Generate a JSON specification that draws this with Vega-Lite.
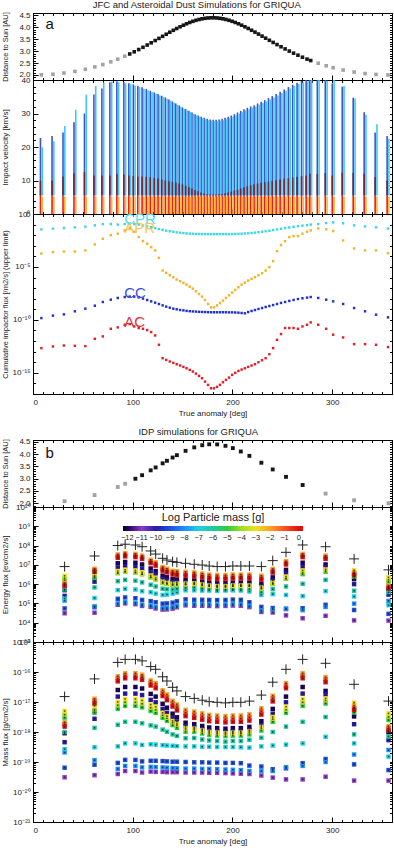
{
"$schema": "https://vega.github.io/schema/vega-lite/v6.json",
"padding": {"left": 0, "top": 0, "right": 2, "bottom": 0},
"background": "white",
"config": {
 "font": "Liberation Sans",
 "view": {"stroke": "#000", "strokeWidth": 1},
 "axis": {"grid": false, "domainColor": "#000", "tickColor": "#000", "tickSize": -5, "labelFontSize": 8, "titleFontSize": 8, "titleFontWeight": "normal", "labelColor": "#222", "titleColor": "#222", "labelPadding": 8, "minExtent": 0, "labelFont": "Liberation Sans", "titleFont": "Liberation Sans"},
 "title": {"fontSize": 9.5, "fontWeight": "normal", "color": "#222", "offset": 1, "font": "Liberation Sans", "anchor": "middle"}
},
"datasets": {
 "orbitA": [
  {"ta":8.4,"r":2.006,"inRange":false,"vcc":22.7,"vcpr":19.9,"vac":10.0,"cpr":-1.45,"apr":-3.73,"cc":-9.83,"ac":-12.67},
  {"ta":20,"r":2.033,"inRange":false,"vcc":23.3,"vcpr":21.7,"vac":10.0,"cpr":-1.38,"apr":-3.6,"cc":-9.6,"ac":-12.51},
  {"ta":31,"r":2.081,"inRange":false,"vcc":24.3,"vcpr":26.3,"vac":11.2,"cpr":-1.33,"apr":-3.54,"cc":-9.48,"ac":-12.42},
  {"ta":42,"r":2.151,"inRange":false,"vcc":27.4,"vcpr":31.1,"vac":12.2,"cpr":-1.26,"apr":-3.54,"cc":-9.19,"ac":-12.45},
  {"ta":52.5,"r":2.239,"inRange":false,"vcc":30.0,"vcpr":35.6,"vac":12.5,"cpr":-1.2,"apr":-3.44,"cc":-8.94,"ac":-12.48},
  {"ta":62,"r":2.338,"inRange":false,"vcc":35.7,"vcpr":38.2,"vac":11.5,"cpr":-1.07,"apr":-2.87,"cc":-8.66,"ac":-11.79},
  {"ta":70,"r":2.437,"inRange":false,"vcc":37.5,"vcpr":39.3,"vac":11.5,"cpr":-0.95,"apr":-2.34,"cc":-8.31,"ac":-11.56},
  {"ta":78,"r":2.551,"inRange":false,"vcc":39.3,"vcpr":39.5,"vac":11.5,"cpr":-0.95,"apr":-1.99,"cc":-8.09,"ac":-10.84},
  {"ta":85,"r":2.663,"inRange":false,"vcc":39.6,"vcpr":39.3,"vac":12.0,"cpr":-1.0,"apr":-1.86,"cc":-7.93,"ac":-10.71},
  {"ta":92,"r":2.787,"inRange":false,"vcc":39.4,"vcpr":39.0,"vac":11.8,"cpr":-0.95,"apr":-1.55,"cc":-7.84,"ac":-10.46},
  {"ta":97,"r":2.882,"inRange":true,"vcc":39.0,"vcpr":38.7,"vac":11.5,"cpr":-0.92,"apr":-1.3,"cc":-7.8,"ac":-10.4},
  {"ta":101.5,"r":2.972,"inRange":true,"vcc":38.7,"vcpr":38.3,"vac":11.3,"cpr":-0.95,"apr":-1.67,"cc":-7.8,"ac":-10.62},
  {"ta":106,"r":3.067,"inRange":true,"vcc":38.3,"vcpr":37.9,"vac":11.2,"cpr":-1.0,"apr":-2.18,"cc":-7.87,"ac":-10.77},
  {"ta":110.3,"r":3.161,"inRange":true,"vcc":37.8,"vcpr":37.4,"vac":11.2,"cpr":-1.08,"apr":-2.56,"cc":-7.99,"ac":-10.84},
  {"ta":114.5,"r":3.256,"inRange":true,"vcc":37.3,"vcpr":36.9,"vac":11.1,"cpr":-1.16,"apr":-2.81,"cc":-8.12,"ac":-10.96},
  {"ta":118.5,"r":3.349,"inRange":true,"vcc":36.8,"vcpr":36.4,"vac":11.0,"cpr":-1.25,"apr":-3.13,"cc":-8.25,"ac":-11.15},
  {"ta":122.5,"r":3.444,"inRange":true,"vcc":36.3,"vcpr":35.9,"vac":10.8,"cpr":-1.33,"apr":-3.44,"cc":-8.37,"ac":-11.47},
  {"ta":126.3,"r":3.535,"inRange":true,"vcc":35.8,"vcpr":35.4,"vac":10.6,"cpr":-1.42,"apr":-4.14,"cc":-8.5,"ac":-12.35},
  {"ta":130,"r":3.623,"inRange":true,"vcc":35.3,"vcpr":34.9,"vac":10.3,"cpr":-1.5,"apr":-5.34,"cc":-8.63,"ac":-13.62},
  {"ta":133.6,"r":3.709,"inRange":true,"vcc":34.8,"vcpr":34.4,"vac":10.0,"cpr":-1.57,"apr":-5.56,"cc":-8.75,"ac":-13.78},
  {"ta":137.2,"r":3.794,"inRange":true,"vcc":34.2,"vcpr":33.8,"vac":9.8,"cpr":-1.63,"apr":-5.78,"cc":-8.85,"ac":-13.93},
  {"ta":140.7,"r":3.874,"inRange":true,"vcc":33.6,"vcpr":33.2,"vac":9.6,"cpr":-1.68,"apr":-5.97,"cc":-8.94,"ac":-14.06},
  {"ta":144.1,"r":3.95,"inRange":true,"vcc":33.0,"vcpr":32.6,"vac":9.4,"cpr":-1.73,"apr":-6.19,"cc":-9.0,"ac":-14.19},
  {"ta":147.5,"r":4.022,"inRange":true,"vcc":32.4,"vcpr":32.0,"vac":9.1,"cpr":-1.77,"apr":-6.35,"cc":-9.07,"ac":-14.31},
  {"ta":150.8,"r":4.088,"inRange":true,"vcc":31.8,"vcpr":31.4,"vac":8.8,"cpr":-1.8,"apr":-6.51,"cc":-9.1,"ac":-14.44},
  {"ta":154,"r":4.148,"inRange":true,"vcc":31.3,"vcpr":30.9,"vac":8.4,"cpr":-1.83,"apr":-6.67,"cc":-9.15,"ac":-14.57},
  {"ta":157.2,"r":4.203,"inRange":true,"vcc":30.8,"vcpr":30.4,"vac":8.0,"cpr":-1.85,"apr":-6.86,"cc":-9.18,"ac":-14.72},
  {"ta":160.3,"r":4.251,"inRange":true,"vcc":30.3,"vcpr":29.9,"vac":7.6,"cpr":-1.87,"apr":-7.05,"cc":-9.2,"ac":-14.88},
  {"ta":163.4,"r":4.293,"inRange":true,"vcc":29.8,"vcpr":29.4,"vac":7.2,"cpr":-1.88,"apr":-7.3,"cc":-9.22,"ac":-15.07},
  {"ta":166.5,"r":4.328,"inRange":true,"vcc":29.4,"vcpr":29.0,"vac":6.8,"cpr":-1.89,"apr":-7.55,"cc":-9.24,"ac":-15.29},
  {"ta":169.5,"r":4.356,"inRange":true,"vcc":29.0,"vcpr":28.6,"vac":6.4,"cpr":-1.9,"apr":-7.8,"cc":-9.25,"ac":-15.51},
  {"ta":172.5,"r":4.377,"inRange":true,"vcc":28.7,"vcpr":28.3,"vac":6.1,"cpr":-1.9,"apr":-8.12,"cc":-9.26,"ac":-15.83},
  {"ta":175.5,"r":4.392,"inRange":true,"vcc":28.4,"vcpr":28.0,"vac":5.9,"cpr":-1.9,"apr":-8.5,"cc":-9.27,"ac":-16.14},
  {"ta":178.5,"r":4.399,"inRange":true,"vcc":28.2,"vcpr":27.8,"vac":5.8,"cpr":-1.9,"apr":-8.82,"cc":-9.28,"ac":-16.46},
  {"ta":181.5,"r":4.399,"inRange":true,"vcc":28.1,"vcpr":27.7,"vac":5.8,"cpr":-1.9,"apr":-8.82,"cc":-9.28,"ac":-16.46},
  {"ta":184.5,"r":4.392,"inRange":true,"vcc":28.1,"vcpr":27.7,"vac":5.8,"cpr":-1.9,"apr":-8.63,"cc":-9.28,"ac":-16.33},
  {"ta":187.5,"r":4.377,"inRange":true,"vcc":28.2,"vcpr":27.8,"vac":5.9,"cpr":-1.9,"apr":-8.41,"cc":-9.28,"ac":-16.14},
  {"ta":190.5,"r":4.356,"inRange":true,"vcc":28.4,"vcpr":28.0,"vac":6.0,"cpr":-1.9,"apr":-8.18,"cc":-9.28,"ac":-15.89},
  {"ta":193.5,"r":4.328,"inRange":true,"vcc":28.7,"vcpr":28.3,"vac":6.2,"cpr":-1.9,"apr":-7.93,"cc":-9.28,"ac":-15.67},
  {"ta":196.6,"r":4.293,"inRange":true,"vcc":29.0,"vcpr":28.6,"vac":6.4,"cpr":-1.9,"apr":-7.68,"cc":-9.29,"ac":-15.45},
  {"ta":199.7,"r":4.251,"inRange":true,"vcc":29.4,"vcpr":29.0,"vac":6.7,"cpr":-1.89,"apr":-7.42,"cc":-9.29,"ac":-15.19},
  {"ta":202.8,"r":4.203,"inRange":true,"vcc":29.8,"vcpr":29.4,"vac":7.0,"cpr":-1.88,"apr":-7.17,"cc":-9.3,"ac":-15.0},
  {"ta":206,"r":4.148,"inRange":true,"vcc":30.3,"vcpr":29.9,"vac":7.3,"cpr":-1.87,"apr":-6.92,"cc":-9.32,"ac":-14.82},
  {"ta":209.2,"r":4.088,"inRange":true,"vcc":30.8,"vcpr":30.4,"vac":7.6,"cpr":-1.86,"apr":-6.67,"cc":-9.35,"ac":-14.69},
  {"ta":212.5,"r":4.022,"inRange":true,"vcc":31.3,"vcpr":30.9,"vac":8.0,"cpr":-1.84,"apr":-6.48,"cc":-9.38,"ac":-14.57},
  {"ta":215.8,"r":3.952,"inRange":true,"vcc":31.7,"vcpr":31.3,"vac":8.3,"cpr":-1.82,"apr":-6.29,"cc":-9.26,"ac":-14.44},
  {"ta":219.2,"r":3.876,"inRange":true,"vcc":32.1,"vcpr":31.7,"vac":8.6,"cpr":-1.79,"apr":-6.13,"cc":-9.16,"ac":-14.31},
  {"ta":222.6,"r":3.798,"inRange":true,"vcc":32.5,"vcpr":32.1,"vac":8.9,"cpr":-1.76,"apr":-5.97,"cc":-9.07,"ac":-14.19},
  {"ta":226.1,"r":3.716,"inRange":true,"vcc":33.0,"vcpr":32.6,"vac":9.1,"cpr":-1.72,"apr":-5.78,"cc":-8.97,"ac":-14.0},
  {"ta":229.7,"r":3.63,"inRange":true,"vcc":33.5,"vcpr":33.1,"vac":9.3,"cpr":-1.68,"apr":-5.59,"cc":-8.88,"ac":-13.81},
  {"ta":233.3,"r":3.544,"inRange":true,"vcc":34.0,"vcpr":33.6,"vac":9.5,"cpr":-1.63,"apr":-5.34,"cc":-8.78,"ac":-13.62},
  {"ta":237,"r":3.456,"inRange":true,"vcc":34.6,"vcpr":34.2,"vac":9.7,"cpr":-1.58,"apr":-5.02,"cc":-8.69,"ac":-13.24},
  {"ta":240.8,"r":3.366,"inRange":true,"vcc":35.2,"vcpr":34.8,"vac":9.9,"cpr":-1.52,"apr":-4.45,"cc":-8.6,"ac":-12.67},
  {"ta":244.7,"r":3.275,"inRange":true,"vcc":35.8,"vcpr":35.4,"vac":10.1,"cpr":-1.46,"apr":-3.51,"cc":-8.5,"ac":-11.88},
  {"ta":248.7,"r":3.184,"inRange":true,"vcc":36.5,"vcpr":36.1,"vac":10.3,"cpr":-1.39,"apr":-2.94,"cc":-8.4,"ac":-11.34},
  {"ta":252.8,"r":3.093,"inRange":true,"vcc":37.2,"vcpr":36.8,"vac":10.5,"cpr":-1.33,"apr":-2.56,"cc":-8.31,"ac":-10.77},
  {"ta":257,"r":3.003,"inRange":true,"vcc":37.9,"vcpr":37.5,"vac":10.7,"cpr":-1.27,"apr":-2.18,"cc":-8.21,"ac":-10.77},
  {"ta":261.3,"r":2.915,"inRange":true,"vcc":38.6,"vcpr":38.2,"vac":10.9,"cpr":-1.21,"apr":-2.09,"cc":-8.12,"ac":-10.77},
  {"ta":265.7,"r":2.83,"inRange":true,"vcc":39.2,"vcpr":38.8,"vac":11.1,"cpr":-1.15,"apr":-2.09,"cc":-8.03,"ac":-10.84},
  {"ta":270.2,"r":2.746,"inRange":true,"vcc":39.7,"vcpr":39.3,"vac":11.3,"cpr":-1.1,"apr":-1.86,"cc":-7.96,"ac":-10.62},
  {"ta":274.8,"r":2.666,"inRange":true,"vcc":40.0,"vcpr":39.6,"vac":11.5,"cpr":-1.05,"apr":-1.67,"cc":-7.9,"ac":-10.46},
  {"ta":278.5,"r":2.606,"inRange":true,"vcc":40.3,"vcpr":40.0,"vac":12.0,"cpr":-1.0,"apr":-1.55,"cc":-7.84,"ac":-10.24},
  {"ta":286,"r":2.492,"inRange":false,"vcc":40.0,"vcpr":40.8,"vac":12.0,"cpr":-0.95,"apr":-1.36,"cc":-7.93,"ac":-10.46},
  {"ta":294,"r":2.386,"inRange":false,"vcc":40.3,"vcpr":39.8,"vac":12.2,"cpr":-0.85,"apr":-1.45,"cc":-8.09,"ac":-10.84},
  {"ta":301,"r":2.305,"inRange":false,"vcc":39.0,"vcpr":40.3,"vac":11.5,"cpr":-0.79,"apr":-1.61,"cc":-8.25,"ac":-11.4},
  {"ta":311,"r":2.207,"inRange":false,"vcc":38.0,"vcpr":38.2,"vac":12.3,"cpr":-0.88,"apr":-2.5,"cc":-8.5,"ac":-11.66},
  {"ta":322,"r":2.123,"inRange":false,"vcc":34.7,"vcpr":34.5,"vac":12.2,"cpr":-1.07,"apr":-3.25,"cc":-8.88,"ac":-12.29},
  {"ta":333,"r":2.061,"inRange":false,"vcc":30.4,"vcpr":29.6,"vac":12.0,"cpr":-1.17,"apr":-3.44,"cc":-9.19,"ac":-12.29},
  {"ta":344,"r":2.021,"inRange":false,"vcc":24.3,"vcpr":26.8,"vac":11.0,"cpr":-1.26,"apr":-3.44,"cc":-9.51,"ac":-12.35},
  {"ta":356,"r":2.001,"inRange":false,"vcc":23.3,"vcpr":22.5,"vac":10.0,"cpr":-1.38,"apr":-3.7,"cc":-9.76,"ac":-12.57}
 ],
 "idpTot": [
  {"ta":31.7,"r":2.085,"inRange":false,"mt":-16.82,"et":6.91},
  {"ta":61.7,"r":2.335,"inRange":false,"mt":-16.23,"et":7.46},
  {"ta":85,"r":2.663,"inRange":false,"mt":-15.68,"et":8.0},
  {"ta":92.4,"r":2.794,"inRange":false,"mt":-15.58,"et":8.07},
  {"ta":102.7,"r":2.997,"inRange":true,"mt":-15.58,"et":8.03},
  {"ta":109.4,"r":3.141,"inRange":true,"mt":-15.63,"et":7.94},
  {"ta":118,"r":3.338,"inRange":true,"mt":-15.82,"et":7.72},
  {"ta":123,"r":3.456,"inRange":true,"mt":-15.91,"et":7.56},
  {"ta":130,"r":3.623,"inRange":true,"mt":-16.16,"et":7.34},
  {"ta":134.3,"r":3.726,"inRange":true,"mt":-16.3,"et":7.25},
  {"ta":140,"r":3.858,"inRange":true,"mt":-16.51,"et":7.17},
  {"ta":144.3,"r":3.954,"inRange":true,"mt":-16.63,"et":7.13},
  {"ta":153,"r":4.13,"inRange":true,"mt":-16.82,"et":7.08},
  {"ta":161.7,"r":4.27,"inRange":true,"mt":-16.88,"et":7.03},
  {"ta":169.7,"r":4.358,"inRange":true,"mt":-16.94,"et":6.99},
  {"ta":176.7,"r":4.396,"inRange":true,"mt":-16.99,"et":6.94},
  {"ta":184.7,"r":4.391,"inRange":true,"mt":-17.01,"et":6.91},
  {"ta":193,"r":4.333,"inRange":true,"mt":-17.03,"et":6.91},
  {"ta":200.4,"r":4.241,"inRange":true,"mt":-17.01,"et":6.94},
  {"ta":208.4,"r":4.103,"inRange":true,"mt":-17.01,"et":6.94},
  {"ta":217,"r":3.926,"inRange":true,"mt":-16.97,"et":6.94},
  {"ta":229,"r":3.647,"inRange":true,"mt":-16.77,"et":6.91},
  {"ta":240.4,"r":3.375,"inRange":true,"mt":-16.34,"et":7.22},
  {"ta":253.7,"r":3.074,"inRange":true,"mt":-15.91,"et":7.65},
  {"ta":270.4,"r":2.743,"inRange":true,"mt":-15.58,"et":8.03},
  {"ta":293.4,"r":2.394,"inRange":false,"mt":-15.71,"et":7.94},
  {"ta":322,"r":2.123,"inRange":false,"mt":-16.41,"et":7.31},
  {"ta":356.5,"r":2.001,"inRange":false,"mt":-16.97,"et":6.74}
 ],
 "idp": [
  {"ta":31.7,"m":-12,"mf":-18.04,"ef":5.69},{"ta":31.7,"m":-11,"mf":-19.51,"ef":4.49},{"ta":31.7,"m":-10,"mf":-18.34,"ef":5.39},{"ta":31.7,"m":-9,"mf":-19.19,"ef":4.74},{"ta":31.7,"m":-8,"mf":-18.68,"ef":5.15},{"ta":31.7,"m":-7,"mf":-18.57,"ef":5.26},{"ta":31.7,"m":-6,"mf":-18.0,"ef":5.73},{"ta":31.7,"m":-5,"mf":-17.52,"ef":6.21},{"ta":31.7,"m":-4,"mf":-17.42,"ef":6.31},{"ta":31.7,"m":-3,"mf":-17.3,"ef":6.43},{"ta":31.7,"m":-2,"mf":-17.67,"ef":6.06},{"ta":31.7,"m":-1,"mf":-17.74,"ef":5.99},{"ta":31.7,"m":0,"mf":-17.82,"ef":5.91},
  {"ta":61.7,"m":-12,"mf":-17.3,"ef":6.39},{"ta":61.7,"m":-11,"mf":-19.44,"ef":4.52},{"ta":61.7,"m":-10,"mf":-17.56,"ef":6.13},{"ta":61.7,"m":-9,"mf":-19.09,"ef":4.8},{"ta":61.7,"m":-8,"mf":-18.94,"ef":4.85},{"ta":61.7,"m":-7,"mf":-18.51,"ef":5.28},{"ta":61.7,"m":-6,"mf":-17.86,"ef":5.83},{"ta":61.7,"m":-5,"mf":-17.36,"ef":6.33},{"ta":61.7,"m":-4,"mf":-17.25,"ef":6.44},{"ta":61.7,"m":-3,"mf":-17.13,"ef":6.56},{"ta":61.7,"m":-2,"mf":-16.89,"ef":6.8},{"ta":61.7,"m":-1,"mf":-16.96,"ef":6.73},{"ta":61.7,"m":0,"mf":-17.05,"ef":6.64},
  {"ta":85,"m":-12,"mf":-16.6,"ef":7.08},{"ta":85,"m":-11,"mf":-19.4,"ef":4.93},{"ta":85,"m":-10,"mf":-16.82,"ef":6.86},{"ta":85,"m":-9,"mf":-19.03,"ef":5.24},{"ta":85,"m":-8,"mf":-19.23,"ef":5.0},{"ta":85,"m":-7,"mf":-18.48,"ef":5.69},{"ta":85,"m":-6,"mf":-17.76,"ef":6.15},{"ta":85,"m":-5,"mf":-17.23,"ef":6.58},{"ta":85,"m":-4,"mf":-17.11,"ef":6.57},{"ta":85,"m":-3,"mf":-17.0,"ef":6.68},{"ta":85,"m":-2,"mf":-16.14,"ef":7.54},{"ta":85,"m":-1,"mf":-16.22,"ef":7.46},{"ta":85,"m":0,"mf":-16.31,"ef":7.37},
  {"ta":92.4,"m":-12,"mf":-16.5,"ef":7.15},{"ta":92.4,"m":-11,"mf":-19.3,"ef":5.0},{"ta":92.4,"m":-10,"mf":-16.72,"ef":6.93},{"ta":92.4,"m":-9,"mf":-18.93,"ef":5.31},{"ta":92.4,"m":-8,"mf":-19.13,"ef":5.07},{"ta":92.4,"m":-7,"mf":-18.38,"ef":5.76},{"ta":92.4,"m":-6,"mf":-17.66,"ef":6.22},{"ta":92.4,"m":-5,"mf":-17.13,"ef":6.65},{"ta":92.4,"m":-4,"mf":-17.01,"ef":6.64},{"ta":92.4,"m":-3,"mf":-16.9,"ef":6.75},{"ta":92.4,"m":-2,"mf":-16.04,"ef":7.61},{"ta":92.4,"m":-1,"mf":-16.12,"ef":7.53},{"ta":92.4,"m":0,"mf":-16.21,"ef":7.44},
  {"ta":102.7,"m":-12,"mf":-16.5,"ef":7.11},{"ta":102.7,"m":-11,"mf":-19.3,"ef":4.96},{"ta":102.7,"m":-10,"mf":-16.72,"ef":6.89},{"ta":102.7,"m":-9,"mf":-18.93,"ef":5.27},{"ta":102.7,"m":-8,"mf":-19.13,"ef":5.03},{"ta":102.7,"m":-7,"mf":-18.38,"ef":5.72},{"ta":102.7,"m":-6,"mf":-17.66,"ef":6.18},{"ta":102.7,"m":-5,"mf":-17.13,"ef":6.61},{"ta":102.7,"m":-4,"mf":-17.01,"ef":6.6},{"ta":102.7,"m":-3,"mf":-16.9,"ef":6.71},{"ta":102.7,"m":-2,"mf":-16.04,"ef":7.57},{"ta":102.7,"m":-1,"mf":-16.12,"ef":7.49},{"ta":102.7,"m":0,"mf":-16.21,"ef":7.4},
  {"ta":109.4,"m":-12,"mf":-16.55,"ef":7.02},{"ta":109.4,"m":-11,"mf":-19.35,"ef":4.87},{"ta":109.4,"m":-10,"mf":-16.77,"ef":6.8},{"ta":109.4,"m":-9,"mf":-18.98,"ef":5.18},{"ta":109.4,"m":-8,"mf":-19.18,"ef":4.94},{"ta":109.4,"m":-7,"mf":-18.43,"ef":5.63},{"ta":109.4,"m":-6,"mf":-17.71,"ef":6.09},{"ta":109.4,"m":-5,"mf":-17.18,"ef":6.52},{"ta":109.4,"m":-4,"mf":-17.06,"ef":6.51},{"ta":109.4,"m":-3,"mf":-16.95,"ef":6.62},{"ta":109.4,"m":-2,"mf":-16.09,"ef":7.48},{"ta":109.4,"m":-1,"mf":-16.17,"ef":7.4},{"ta":109.4,"m":0,"mf":-16.26,"ef":7.31},
  {"ta":118,"m":-12,"mf":-16.73,"ef":6.81},{"ta":118,"m":-11,"mf":-19.32,"ef":4.82},{"ta":118,"m":-10,"mf":-16.93,"ef":6.61},{"ta":118,"m":-9,"mf":-18.96,"ef":5.12},{"ta":118,"m":-8,"mf":-19.16,"ef":4.89},{"ta":118,"m":-7,"mf":-18.41,"ef":5.58},{"ta":118,"m":-6,"mf":-17.78,"ef":5.97},{"ta":118,"m":-5,"mf":-17.3,"ef":6.36},{"ta":118,"m":-4,"mf":-17.19,"ef":6.35},{"ta":118,"m":-3,"mf":-17.09,"ef":6.45},{"ta":118,"m":-2,"mf":-16.28,"ef":7.26},{"ta":118,"m":-1,"mf":-16.36,"ef":7.18},{"ta":118,"m":0,"mf":-16.45,"ef":7.09},
  {"ta":123,"m":-12,"mf":-16.82,"ef":6.68},{"ta":123,"m":-11,"mf":-19.33,"ef":4.74},{"ta":123,"m":-10,"mf":-17.01,"ef":6.49},{"ta":123,"m":-9,"mf":-18.96,"ef":5.06},{"ta":123,"m":-8,"mf":-19.17,"ef":4.82},{"ta":123,"m":-7,"mf":-18.42,"ef":5.51},{"ta":123,"m":-6,"mf":-17.82,"ef":5.88},{"ta":123,"m":-5,"mf":-17.36,"ef":6.25},{"ta":123,"m":-4,"mf":-17.26,"ef":6.24},{"ta":123,"m":-3,"mf":-17.16,"ef":6.34},{"ta":123,"m":-2,"mf":-16.37,"ef":7.13},{"ta":123,"m":-1,"mf":-16.45,"ef":7.05},{"ta":123,"m":0,"mf":-16.54,"ef":6.96},
  {"ta":130,"m":-12,"mf":-17.06,"ef":6.44},{"ta":130,"m":-11,"mf":-19.33,"ef":4.68},{"ta":130,"m":-10,"mf":-17.23,"ef":6.27},{"ta":130,"m":-9,"mf":-18.97,"ef":4.99},{"ta":130,"m":-8,"mf":-19.18,"ef":4.75},{"ta":130,"m":-7,"mf":-18.44,"ef":5.44},{"ta":130,"m":-6,"mf":-17.92,"ef":5.76},{"ta":130,"m":-5,"mf":-17.53,"ef":6.07},{"ta":130,"m":-4,"mf":-17.44,"ef":6.06},{"ta":130,"m":-3,"mf":-17.36,"ef":6.14},{"ta":130,"m":-2,"mf":-16.61,"ef":6.89},{"ta":130,"m":-1,"mf":-16.7,"ef":6.8},{"ta":130,"m":0,"mf":-16.8,"ef":6.7},
  {"ta":134.3,"m":-12,"mf":-17.19,"ef":6.36},{"ta":134.3,"m":-11,"mf":-19.34,"ef":4.69},{"ta":134.3,"m":-10,"mf":-17.36,"ef":6.19},{"ta":134.3,"m":-9,"mf":-18.98,"ef":5.0},{"ta":134.3,"m":-8,"mf":-19.19,"ef":4.76},{"ta":134.3,"m":-7,"mf":-18.45,"ef":5.46},{"ta":134.3,"m":-6,"mf":-17.99,"ef":5.73},{"ta":134.3,"m":-5,"mf":-17.63,"ef":6.02},{"ta":134.3,"m":-4,"mf":-17.54,"ef":6.01},{"ta":134.3,"m":-3,"mf":-17.47,"ef":6.08},{"ta":134.3,"m":-2,"mf":-16.75,"ef":6.8},{"ta":134.3,"m":-1,"mf":-16.84,"ef":6.71},{"ta":134.3,"m":0,"mf":-16.94,"ef":6.61},
  {"ta":140,"m":-12,"mf":-17.39,"ef":6.26},{"ta":140,"m":-11,"mf":-19.34,"ef":4.73},{"ta":140,"m":-10,"mf":-17.54,"ef":6.11},{"ta":140,"m":-9,"mf":-18.99,"ef":5.04},{"ta":140,"m":-8,"mf":-19.2,"ef":4.81},{"ta":140,"m":-7,"mf":-18.46,"ef":5.51},{"ta":140,"m":-6,"mf":-18.08,"ef":5.72},{"ta":140,"m":-5,"mf":-17.77,"ef":5.96},{"ta":140,"m":-4,"mf":-17.69,"ef":5.96},{"ta":140,"m":-3,"mf":-17.63,"ef":6.02},{"ta":140,"m":-2,"mf":-16.96,"ef":6.69},{"ta":140,"m":-1,"mf":-17.05,"ef":6.6},{"ta":140,"m":0,"mf":-17.15,"ef":6.5},
  {"ta":144.3,"m":-12,"mf":-17.51,"ef":6.24},{"ta":144.3,"m":-11,"mf":-19.34,"ef":4.8},{"ta":144.3,"m":-10,"mf":-17.65,"ef":6.1},{"ta":144.3,"m":-9,"mf":-18.99,"ef":5.11},{"ta":144.3,"m":-8,"mf":-19.21,"ef":4.87},{"ta":144.3,"m":-7,"mf":-18.47,"ef":5.57},{"ta":144.3,"m":-6,"mf":-18.13,"ef":5.76},{"ta":144.3,"m":-5,"mf":-17.86,"ef":5.97},{"ta":144.3,"m":-4,"mf":-17.78,"ef":5.97},{"ta":144.3,"m":-3,"mf":-17.72,"ef":6.03},{"ta":144.3,"m":-2,"mf":-17.08,"ef":6.67},{"ta":144.3,"m":-1,"mf":-17.17,"ef":6.58},{"ta":144.3,"m":0,"mf":-17.28,"ef":6.47},
  {"ta":153,"m":-12,"mf":-17.69,"ef":6.21},{"ta":153,"m":-11,"mf":-19.35,"ef":4.9},{"ta":153,"m":-10,"mf":-17.81,"ef":6.09},{"ta":153,"m":-9,"mf":-19.0,"ef":5.21},{"ta":153,"m":-8,"mf":-19.22,"ef":4.97},{"ta":153,"m":-7,"mf":-18.48,"ef":5.68},{"ta":153,"m":-6,"mf":-18.21,"ef":5.81},{"ta":153,"m":-5,"mf":-17.99,"ef":5.98},{"ta":153,"m":-4,"mf":-17.92,"ef":5.98},{"ta":153,"m":-3,"mf":-17.87,"ef":6.03},{"ta":153,"m":-2,"mf":-17.26,"ef":6.64},{"ta":153,"m":-1,"mf":-17.36,"ef":6.54},{"ta":153,"m":0,"mf":-17.47,"ef":6.43},
  {"ta":161.7,"m":-12,"mf":-17.74,"ef":6.19},{"ta":161.7,"m":-11,"mf":-19.35,"ef":4.88},{"ta":161.7,"m":-10,"mf":-17.85,"ef":6.08},{"ta":161.7,"m":-9,"mf":-19.01,"ef":5.19},{"ta":161.7,"m":-8,"mf":-19.22,"ef":4.97},{"ta":161.7,"m":-7,"mf":-18.48,"ef":5.68},{"ta":161.7,"m":-6,"mf":-18.2,"ef":5.83},{"ta":161.7,"m":-5,"mf":-17.99,"ef":6.0},{"ta":161.7,"m":-4,"mf":-17.93,"ef":6.0},{"ta":161.7,"m":-3,"mf":-17.89,"ef":6.04},{"ta":161.7,"m":-2,"mf":-17.32,"ef":6.61},{"ta":161.7,"m":-1,"mf":-17.42,"ef":6.51},{"ta":161.7,"m":0,"mf":-17.53,"ef":6.4},
  {"ta":169.7,"m":-12,"mf":-17.8,"ef":6.13},{"ta":169.7,"m":-11,"mf":-19.35,"ef":4.88},{"ta":169.7,"m":-10,"mf":-17.91,"ef":6.02},{"ta":169.7,"m":-9,"mf":-19.01,"ef":5.19},{"ta":169.7,"m":-8,"mf":-19.23,"ef":4.96},{"ta":169.7,"m":-7,"mf":-18.49,"ef":5.67},{"ta":169.7,"m":-6,"mf":-18.25,"ef":5.78},{"ta":169.7,"m":-5,"mf":-18.05,"ef":5.94},{"ta":169.7,"m":-4,"mf":-17.99,"ef":5.94},{"ta":169.7,"m":-3,"mf":-17.95,"ef":5.98},{"ta":169.7,"m":-2,"mf":-17.38,"ef":6.55},{"ta":169.7,"m":-1,"mf":-17.48,"ef":6.45},{"ta":169.7,"m":0,"mf":-17.59,"ef":6.34},
  {"ta":176.7,"m":-12,"mf":-17.85,"ef":6.08},{"ta":176.7,"m":-11,"mf":-19.36,"ef":4.87},{"ta":176.7,"m":-10,"mf":-17.96,"ef":5.97},{"ta":176.7,"m":-9,"mf":-19.02,"ef":5.18},{"ta":176.7,"m":-8,"mf":-19.23,"ef":4.96},{"ta":176.7,"m":-7,"mf":-18.49,"ef":5.67},{"ta":176.7,"m":-6,"mf":-18.28,"ef":5.75},{"ta":176.7,"m":-5,"mf":-18.1,"ef":5.89},{"ta":176.7,"m":-4,"mf":-18.04,"ef":5.89},{"ta":176.7,"m":-3,"mf":-18.0,"ef":5.93},{"ta":176.7,"m":-2,"mf":-17.43,"ef":6.5},{"ta":176.7,"m":-1,"mf":-17.53,"ef":6.4},{"ta":176.7,"m":0,"mf":-17.64,"ef":6.29},
  {"ta":184.7,"m":-12,"mf":-17.87,"ef":6.05},{"ta":184.7,"m":-11,"mf":-19.36,"ef":4.86},{"ta":184.7,"m":-10,"mf":-17.98,"ef":5.94},{"ta":184.7,"m":-9,"mf":-19.02,"ef":5.17},{"ta":184.7,"m":-8,"mf":-19.24,"ef":4.94},{"ta":184.7,"m":-7,"mf":-18.5,"ef":5.65},{"ta":184.7,"m":-6,"mf":-18.3,"ef":5.72},{"ta":184.7,"m":-5,"mf":-18.12,"ef":5.86},{"ta":184.7,"m":-4,"mf":-18.06,"ef":5.86},{"ta":184.7,"m":-3,"mf":-18.02,"ef":5.9},{"ta":184.7,"m":-2,"mf":-17.45,"ef":6.47},{"ta":184.7,"m":-1,"mf":-17.55,"ef":6.37},{"ta":184.7,"m":0,"mf":-17.66,"ef":6.26},
  {"ta":193,"m":-12,"mf":-17.89,"ef":6.05},{"ta":193,"m":-11,"mf":-19.37,"ef":4.87},{"ta":193,"m":-10,"mf":-18.0,"ef":5.94},{"ta":193,"m":-9,"mf":-19.03,"ef":5.18},{"ta":193,"m":-8,"mf":-19.25,"ef":4.95},{"ta":193,"m":-7,"mf":-18.5,"ef":5.67},{"ta":193,"m":-6,"mf":-18.32,"ef":5.72},{"ta":193,"m":-5,"mf":-18.14,"ef":5.86},{"ta":193,"m":-4,"mf":-18.08,"ef":5.86},{"ta":193,"m":-3,"mf":-18.04,"ef":5.9},{"ta":193,"m":-2,"mf":-17.47,"ef":6.47},{"ta":193,"m":-1,"mf":-17.57,"ef":6.37},{"ta":193,"m":0,"mf":-17.68,"ef":6.26},
  {"ta":200.4,"m":-12,"mf":-17.87,"ef":6.08},{"ta":200.4,"m":-11,"mf":-19.38,"ef":4.89},{"ta":200.4,"m":-10,"mf":-17.98,"ef":5.97},{"ta":200.4,"m":-9,"mf":-19.03,"ef":5.2},{"ta":200.4,"m":-8,"mf":-19.26,"ef":4.97},{"ta":200.4,"m":-7,"mf":-18.5,"ef":5.68},{"ta":200.4,"m":-6,"mf":-18.3,"ef":5.75},{"ta":200.4,"m":-5,"mf":-18.12,"ef":5.89},{"ta":200.4,"m":-4,"mf":-18.06,"ef":5.89},{"ta":200.4,"m":-3,"mf":-18.02,"ef":5.93},{"ta":200.4,"m":-2,"mf":-17.45,"ef":6.5},{"ta":200.4,"m":-1,"mf":-17.55,"ef":6.4},{"ta":200.4,"m":0,"mf":-17.66,"ef":6.29},
  {"ta":208.4,"m":-12,"mf":-17.87,"ef":6.08},{"ta":208.4,"m":-11,"mf":-19.39,"ef":4.88},{"ta":208.4,"m":-10,"mf":-17.98,"ef":5.97},{"ta":208.4,"m":-9,"mf":-19.04,"ef":5.19},{"ta":208.4,"m":-8,"mf":-19.27,"ef":4.96},{"ta":208.4,"m":-7,"mf":-18.51,"ef":5.67},{"ta":208.4,"m":-6,"mf":-18.3,"ef":5.75},{"ta":208.4,"m":-5,"mf":-18.12,"ef":5.89},{"ta":208.4,"m":-4,"mf":-18.06,"ef":5.89},{"ta":208.4,"m":-3,"mf":-18.02,"ef":5.93},{"ta":208.4,"m":-2,"mf":-17.45,"ef":6.5},{"ta":208.4,"m":-1,"mf":-17.55,"ef":6.4},{"ta":208.4,"m":0,"mf":-17.66,"ef":6.29},
  {"ta":217,"m":-12,"mf":-17.83,"ef":6.08},{"ta":217,"m":-11,"mf":-19.4,"ef":4.81},{"ta":217,"m":-10,"mf":-17.94,"ef":5.97},{"ta":217,"m":-9,"mf":-19.12,"ef":5.06},{"ta":217,"m":-8,"mf":-19.3,"ef":4.87},{"ta":217,"m":-7,"mf":-18.52,"ef":5.62},{"ta":217,"m":-6,"mf":-18.26,"ef":5.75},{"ta":217,"m":-5,"mf":-18.08,"ef":5.89},{"ta":217,"m":-4,"mf":-18.02,"ef":5.89},{"ta":217,"m":-3,"mf":-17.98,"ef":5.93},{"ta":217,"m":-2,"mf":-17.41,"ef":6.5},{"ta":217,"m":-1,"mf":-17.51,"ef":6.4},{"ta":217,"m":0,"mf":-17.62,"ef":6.29},
  {"ta":229,"m":-12,"mf":-17.64,"ef":6.01},{"ta":229,"m":-11,"mf":-19.45,"ef":4.56},{"ta":229,"m":-10,"mf":-17.77,"ef":5.88},{"ta":229,"m":-9,"mf":-19.15,"ef":4.82},{"ta":229,"m":-8,"mf":-19.3,"ef":4.65},{"ta":229,"m":-7,"mf":-18.48,"ef":5.44},{"ta":229,"m":-6,"mf":-18.19,"ef":5.58},{"ta":229,"m":-5,"mf":-17.95,"ef":5.77},{"ta":229,"m":-4,"mf":-17.88,"ef":5.77},{"ta":229,"m":-3,"mf":-17.83,"ef":5.82},{"ta":229,"m":-2,"mf":-17.21,"ef":6.44},{"ta":229,"m":-1,"mf":-17.31,"ef":6.34},{"ta":229,"m":0,"mf":-17.42,"ef":6.23},
  {"ta":240.4,"m":-12,"mf":-17.23,"ef":6.35},{"ta":240.4,"m":-11,"mf":-19.52,"ef":4.53},{"ta":240.4,"m":-10,"mf":-17.39,"ef":6.19},{"ta":240.4,"m":-9,"mf":-19.24,"ef":4.76},{"ta":240.4,"m":-8,"mf":-19.3,"ef":4.68},{"ta":240.4,"m":-7,"mf":-18.45,"ef":5.48},{"ta":240.4,"m":-6,"mf":-18.0,"ef":5.74},{"ta":240.4,"m":-5,"mf":-17.66,"ef":6.01},{"ta":240.4,"m":-4,"mf":-17.57,"ef":6.01},{"ta":240.4,"m":-3,"mf":-17.5,"ef":6.08},{"ta":240.4,"m":-2,"mf":-16.79,"ef":6.79},{"ta":240.4,"m":-1,"mf":-16.88,"ef":6.7},{"ta":240.4,"m":0,"mf":-16.98,"ef":6.6},
  {"ta":253.7,"m":-12,"mf":-16.82,"ef":6.74},{"ta":253.7,"m":-11,"mf":-19.58,"ef":4.38},{"ta":253.7,"m":-10,"mf":-17.01,"ef":6.55},{"ta":253.7,"m":-9,"mf":-19.21,"ef":4.71},{"ta":253.7,"m":-8,"mf":-19.17,"ef":4.73},{"ta":253.7,"m":-7,"mf":-18.42,"ef":5.44},{"ta":253.7,"m":-6,"mf":-17.82,"ef":5.88},{"ta":253.7,"m":-5,"mf":-17.36,"ef":6.28},{"ta":253.7,"m":-4,"mf":-17.26,"ef":6.3},{"ta":253.7,"m":-3,"mf":-17.16,"ef":6.4},{"ta":253.7,"m":-2,"mf":-16.37,"ef":7.19},{"ta":253.7,"m":-1,"mf":-16.45,"ef":7.11},{"ta":253.7,"m":0,"mf":-16.54,"ef":7.02},
  {"ta":270.4,"m":-12,"mf":-16.5,"ef":7.11},{"ta":270.4,"m":-11,"mf":-19.58,"ef":4.23},{"ta":270.4,"m":-10,"mf":-16.72,"ef":6.89},{"ta":270.4,"m":-9,"mf":-19.04,"ef":4.75},{"ta":270.4,"m":-8,"mf":-19.13,"ef":4.65},{"ta":270.4,"m":-7,"mf":-18.38,"ef":5.38},{"ta":270.4,"m":-6,"mf":-17.66,"ef":6.02},{"ta":270.4,"m":-5,"mf":-17.13,"ef":6.52},{"ta":270.4,"m":-4,"mf":-17.01,"ef":6.6},{"ta":270.4,"m":-3,"mf":-16.9,"ef":6.71},{"ta":270.4,"m":-2,"mf":-16.04,"ef":7.57},{"ta":270.4,"m":-1,"mf":-16.12,"ef":7.49},{"ta":270.4,"m":0,"mf":-16.21,"ef":7.4},
  {"ta":293.4,"m":-12,"mf":-16.63,"ef":7.02},{"ta":293.4,"m":-11,"mf":-19.49,"ef":4.36},{"ta":293.4,"m":-10,"mf":-16.75,"ef":6.9},{"ta":293.4,"m":-9,"mf":-18.9,"ef":4.93},{"ta":293.4,"m":-8,"mf":-19.0,"ef":4.82},{"ta":293.4,"m":-7,"mf":-18.16,"ef":5.64},{"ta":293.4,"m":-6,"mf":-17.5,"ef":6.22},{"ta":293.4,"m":-5,"mf":-17.05,"ef":6.64},{"ta":293.4,"m":-4,"mf":-16.95,"ef":6.7},{"ta":293.4,"m":-3,"mf":-16.88,"ef":6.77},{"ta":293.4,"m":-2,"mf":-16.17,"ef":7.48},{"ta":293.4,"m":-1,"mf":-16.25,"ef":7.4},{"ta":293.4,"m":0,"mf":-16.34,"ef":7.31},
  {"ta":322,"m":-12,"mf":-17.48,"ef":6.26},{"ta":322,"m":-11,"mf":-19.62,"ef":4.12},{"ta":322,"m":-10,"mf":-17.74,"ef":6.0},{"ta":322,"m":-9,"mf":-19.08,"ef":4.66},{"ta":322,"m":-8,"mf":-18.75,"ef":4.99},{"ta":322,"m":-7,"mf":-18.38,"ef":5.36},{"ta":322,"m":-6,"mf":-18.08,"ef":5.66},{"ta":322,"m":-5,"mf":-17.35,"ef":6.39},{"ta":322,"m":-4,"mf":-17.2,"ef":6.54},{"ta":322,"m":-3,"mf":-17.02,"ef":6.72},{"ta":322,"m":-2,"mf":-17.12,"ef":6.62},{"ta":322,"m":-1,"mf":-17.2,"ef":6.54},{"ta":322,"m":0,"mf":-17.27,"ef":6.47},
  {"ta":356.5,"m":-12,"mf":-18.01,"ef":5.72},{"ta":356.5,"m":-11,"mf":-19.62,"ef":4.11},{"ta":356.5,"m":-10,"mf":-18.27,"ef":5.46},{"ta":356.5,"m":-9,"mf":-19.27,"ef":4.46},{"ta":356.5,"m":-8,"mf":-18.6,"ef":5.13},{"ta":356.5,"m":-7,"mf":-18.82,"ef":4.91},{"ta":356.5,"m":-6,"mf":-18.15,"ef":5.58},{"ta":356.5,"m":-5,"mf":-17.6,"ef":6.13},{"ta":356.5,"m":-4,"mf":-17.5,"ef":6.23},{"ta":356.5,"m":-3,"mf":-17.38,"ef":6.35},{"ta":356.5,"m":-2,"mf":-17.8,"ef":5.93},{"ta":356.5,"m":-1,"mf":-17.87,"ef":5.86},{"ta":356.5,"m":0,"mf":-17.95,"ef":5.78}
 ]
},
"resolve": {"scale": {"color": "independent"}, "legend": {"color": "independent"}},
"spacing": 8,
"vconcat": [
 {
  "title": {"text": "JFC and Asteroidal Dust Simulations for GRIQUA", "anchor": "middle"},
  "bounds": "flush",
  "spacing": 0,
  "vconcat": [
   {
    "width": 359, "height": 67,
    "resolve": {"axis": {"x": "independent", "y": "independent"}},
    "layer": [
     {"layer": [
      {"data": {"name": "orbitA"}, "mark": {"type": "square", "size": 13, "opacity": 1},
       "encoding": {
        "x": {"field": "ta", "type": "quantitative", "scale": {"domain": [0, 360], "nice": false, "zero": false}, "axis": {"values": [0,100,200,300], "labels": false, "title": null, "minExtent": 0, "maxExtent": 0}},
        "y": {"field": "r", "type": "quantitative", "scale": {"domain": [1.79, 4.6], "nice": false, "zero": false}, "axis": {"title": "Distance to Sun [AU]", "titleFontSize": 7.5, "values": [2,2.5], "format": ".1f", "minExtent": 21, "maxExtent": 21, "titlePadding": 3}},
        "color": {"condition": {"test": "datum.inRange", "value": "#161616"}, "value": "#a3a3a3"}
       }},
      {"data": {"values": [{"ta": 12.5, "r": 4.15, "label": "a"}]}, "mark": {"type": "text", "fontSize": 15, "align": "left", "baseline": "middle", "color": "#111"},
       "encoding": {"x": {"field": "ta", "type": "quantitative"}, "y": {"field": "r", "type": "quantitative"}, "text": {"field": "label"}}}
     ]},
     {"data": {"name": "orbitA"}, "mark": {"type": "point", "opacity": 0},
      "encoding": {"y": {"field": "r", "type": "quantitative", "axis": {"orient": "left", "values": [3,3.5], "format": ".1f", "title": null, "minExtent": 21, "maxExtent": 21}}}},
     {"data": {"name": "orbitA"}, "mark": {"type": "point", "opacity": 0},
      "encoding": {"y": {"field": "r", "type": "quantitative", "axis": {"orient": "left", "values": [4,4.5], "format": ".1f", "title": null, "minExtent": 21, "maxExtent": 21}}}},
     {"data": {"name": "orbitA"}, "mark": {"type": "point", "opacity": 0},
      "encoding": {
       "x": {"field": "ta", "type": "quantitative", "axis": {"orient": "top", "values": [0,10,20,30,40,50,60,70,80,90,100,110,120,130,140,150,160,170,180,190,200,210,220,230,240,250,260,270,280,290,300,310,320,330,340,350,360], "tickSize": -2.5, "labels": false, "title": null, "maxExtent": 0}},
       "y": {"field": "r", "type": "quantitative", "axis": {"orient": "right", "values": [1.8,1.9,2,2.1,2.2,2.3,2.4,2.5,2.6,2.7,2.8,2.9,3,3.1,3.2,3.3,3.4,3.5,3.6,3.7,3.8,3.9,4,4.1,4.2,4.3,4.4,4.5,4.6], "tickSize": -2.5, "labels": false, "title": null, "maxExtent": 0}}
      }},
     {"data": {"name": "orbitA"}, "mark": {"type": "point", "opacity": 0},
      "encoding": {
       "x": {"field": "ta", "type": "quantitative", "axis": {"orient": "bottom", "values": [0,10,20,30,40,50,60,70,80,90,100,110,120,130,140,150,160,170,180,190,200,210,220,230,240,250,260,270,280,290,300,310,320,330,340,350,360], "tickSize": -2.5, "labels": false, "title": null, "maxExtent": 0}},
       "y": {"field": "r", "type": "quantitative", "axis": {"orient": "left", "values": [1.8,1.9,2,2.1,2.2,2.3,2.4,2.5,2.6,2.7,2.8,2.9,3,3.1,3.2,3.3,3.4,3.5,3.6,3.7,3.8,3.9,4,4.1,4.2,4.3,4.4,4.5,4.6], "tickSize": -2.5, "labels": false, "title": null, "maxExtent": 0}}
      }}
    ]
   },
   {
    "width": 359, "height": 134,
    "resolve": {"axis": {"x": "independent", "y": "independent"}},
    "layer": [
     {"data": {"name": "orbitA"},
      "encoding": {"x": {"field": "ta", "type": "quantitative", "scale": {"domain": [0, 360], "nice": false, "zero": false}, "axis": {"values": [0,100,200,300], "labels": false, "title": null, "minExtent": 0, "maxExtent": 0}}},
      "layer": [
       {"mark": {"type": "rule", "color": "#3d55d0", "strokeWidth": 1.6, "xOffset": -0.9, "clip": true},
        "encoding": {"y": {"field": "vcc", "type": "quantitative", "scale": {"domain": [0, 40], "nice": false}, "axis": {"title": "Impact velocity [km/s]", "values": [0,10], "format": "d", "minExtent": 21, "maxExtent": 21, "titlePadding": 3}}, "y2": {"datum": 5.5}}},
       {"mark": {"type": "rule", "color": "#3fc9f2", "strokeWidth": 1.6, "xOffset": 0.9, "clip": true},
        "encoding": {"y": {"field": "vcpr", "type": "quantitative"}, "y2": {"datum": 5.5}}},
       {"mark": {"type": "rule", "color": "#7a2338", "strokeWidth": 1.6, "xOffset": -0.9, "clip": true},
        "encoding": {"y": {"field": "vac", "type": "quantitative"}, "y2": {"datum": 5.5}}},
       {"mark": {"type": "rule", "color": "#e81c1c", "strokeWidth": 1.6, "xOffset": -0.9, "clip": true},
        "encoding": {"y": {"datum": 5.5}, "y2": {"datum": 0}}},
       {"mark": {"type": "rule", "color": "#ffb52e", "strokeWidth": 1.6, "xOffset": 0.9, "clip": true},
        "encoding": {"y": {"datum": 5.2}, "y2": {"datum": 0}}}
      ]},
     {"data": {"name": "orbitA"}, "mark": {"type": "point", "opacity": 0},
      "encoding": {"y": {"field": "vac", "type": "quantitative", "axis": {"orient": "left", "values": [20,30], "format": "d", "title": null, "minExtent": 21, "maxExtent": 21}}}},
     {"data": {"name": "orbitA"}, "mark": {"type": "point", "opacity": 0},
      "encoding": {"y": {"field": "vac", "type": "quantitative", "axis": {"orient": "left", "values": [40], "format": "d", "title": null, "minExtent": 21, "maxExtent": 21}}}},
     {"data": {"name": "orbitA"}, "mark": {"type": "point", "opacity": 0},
      "encoding": {
       "x": {"field": "ta", "type": "quantitative", "axis": {"orient": "top", "values": [0,10,20,30,40,50,60,70,80,90,100,110,120,130,140,150,160,170,180,190,200,210,220,230,240,250,260,270,280,290,300,310,320,330,340,350,360], "tickSize": -2.5, "labels": false, "title": null, "maxExtent": 0}},
       "y": {"field": "vac", "type": "quantitative", "axis": {"orient": "right", "values": [0,2,4,6,8,10,12,14,16,18,20,22,24,26,28,30,32,34,36,38,40], "tickSize": -2.5, "labels": false, "title": null, "maxExtent": 0}}
      }},
     {"data": {"name": "orbitA"}, "mark": {"type": "point", "opacity": 0},
      "encoding": {
       "x": {"field": "ta", "type": "quantitative", "axis": {"orient": "bottom", "values": [0,10,20,30,40,50,60,70,80,90,100,110,120,130,140,150,160,170,180,190,200,210,220,230,240,250,260,270,280,290,300,310,320,330,340,350,360], "tickSize": -2.5, "labels": false, "title": null, "maxExtent": 0}},
       "y": {"field": "vac", "type": "quantitative", "axis": {"orient": "left", "values": [0,2,4,6,8,10,12,14,16,18,20,22,24,26,28,30,32,34,36,38,40], "tickSize": -2.5, "labels": false, "title": null, "maxExtent": 0}}
      }}
    ]
   },
   {
    "width": 359, "height": 180,
    "resolve": {"axis": {"x": "independent", "y": "independent"}},
    "layer": [
     {"layer": [
      {"data": {"name": "orbitA"}, "mark": {"type": "square", "size": 6, "color": "#3fd6e8", "opacity": 1},
       "encoding": {
        "x": {"field": "ta", "type": "quantitative", "scale": {"domain": [0, 360], "nice": false, "zero": false}, "axis": {"values": [0,100,200,300], "format": "d", "title": "True anomaly [deg]", "labelPadding": 9, "minExtent": 12, "maxExtent": 12, "titlePadding": 3}},
        "y": {"field": "cpr", "type": "quantitative", "scale": {"domain": [-17, 0], "nice": false, "zero": false}, "axis": {"title": "Cumulative impactor flux [/m2/s] (upper limit)", "titleFontSize": 7.5, "values": [-15,-10,-5,0], "labelExpr": "'10' + replace(replace(replace(replace(replace(replace(replace(replace(replace(replace(replace(toString(datum.value),'-','⁻'),regexp('0','g'),'⁰'),regexp('1','g'),'¹'),regexp('2','g'),'²'),regexp('3','g'),'³'),regexp('4','g'),'⁴'),regexp('5','g'),'⁵'),regexp('6','g'),'⁶'),regexp('7','g'),'⁷'),regexp('8','g'),'⁸'),regexp('9','g'),'⁹')", "minExtent": 21, "maxExtent": 21, "titlePadding": 3}}
       }},
      {"data": {"name": "orbitA"}, "mark": {"type": "square", "size": 6, "color": "#f0b52a", "opacity": 1},
       "encoding": {"x": {"field": "ta", "type": "quantitative"}, "y": {"field": "apr", "type": "quantitative"}}},
      {"data": {"name": "orbitA"}, "mark": {"type": "square", "size": 6, "color": "#2233c8", "opacity": 1},
       "encoding": {"x": {"field": "ta", "type": "quantitative"}, "y": {"field": "cc", "type": "quantitative"}}},
      {"data": {"name": "orbitA"}, "mark": {"type": "square", "size": 6, "color": "#e0202a", "opacity": 1},
       "encoding": {"x": {"field": "ta", "type": "quantitative"}, "y": {"field": "ac", "type": "quantitative"}}},
      {"data": {"values": [{"ta": 91.5, "cpr": -0.45, "label": "CPR"}]}, "mark": {"type": "text", "fontSize": 15, "align": "left", "baseline": "middle", "color": "#4fe0f0"},
       "encoding": {"x": {"field": "ta", "type": "quantitative"}, "y": {"field": "cpr", "type": "quantitative"}, "text": {"field": "label"}}},
      {"data": {"values": [{"ta": 91.5, "cpr": -1.3, "label": "APR"}]}, "mark": {"type": "text", "fontSize": 15, "align": "left", "baseline": "middle", "color": "#f2c03c", "opacity": 0.85},
       "encoding": {"x": {"field": "ta", "type": "quantitative"}, "y": {"field": "cpr", "type": "quantitative"}, "text": {"field": "label"}}},
      {"data": {"values": [{"ta": 91.5, "cpr": -7.45, "label": "CC"}]}, "mark": {"type": "text", "fontSize": 15, "align": "left", "baseline": "middle", "color": "#3a4fe0"},
       "encoding": {"x": {"field": "ta", "type": "quantitative"}, "y": {"field": "cpr", "type": "quantitative"}, "text": {"field": "label"}}},
      {"data": {"values": [{"ta": 91.5, "cpr": -10.2, "label": "AC"}]}, "mark": {"type": "text", "fontSize": 15, "align": "left", "baseline": "middle", "color": "#e03040"},
       "encoding": {"x": {"field": "ta", "type": "quantitative"}, "y": {"field": "cpr", "type": "quantitative"}, "text": {"field": "label"}}}
     ]},
     {"data": {"name": "orbitA"}, "mark": {"type": "point", "opacity": 0},
      "encoding": {
       "x": {"field": "ta", "type": "quantitative", "axis": {"orient": "top", "values": [0,10,20,30,40,50,60,70,80,90,100,110,120,130,140,150,160,170,180,190,200,210,220,230,240,250,260,270,280,290,300,310,320,330,340,350,360], "tickSize": -2.5, "labels": false, "title": null, "maxExtent": 0}},
       "y": {"field": "cc", "type": "quantitative", "axis": {"orient": "right", "values": [-17,-16,-15,-14,-13,-12,-11,-10,-9,-8,-7,-6,-5,-4,-3,-2,-1,0], "tickSize": -2.5, "labels": false, "title": null, "maxExtent": 0}}
      }},
     {"data": {"name": "orbitA"}, "mark": {"type": "point", "opacity": 0},
      "encoding": {
       "x": {"field": "ta", "type": "quantitative", "axis": {"orient": "bottom", "values": [0,10,20,30,40,50,60,70,80,90,100,110,120,130,140,150,160,170,180,190,200,210,220,230,240,250,260,270,280,290,300,310,320,330,340,350,360], "tickSize": -2.5, "labels": false, "title": null, "maxExtent": 0}},
       "y": {"field": "cc", "type": "quantitative", "axis": {"orient": "left", "values": [-17,-16,-15,-14,-13,-12,-11,-10,-9,-8,-7,-6,-5,-4,-3,-2,-1,0], "tickSize": -2.5, "labels": false, "title": null, "maxExtent": 0}}
      }}
    ]
   }
  ]
 },
 {
  "title": {"text": "IDP simulations for GRIQUA", "anchor": "middle"},
  "bounds": "flush",
  "spacing": 0,
  "resolve": {"scale": {"color": "independent"}, "legend": {"color": "independent"}},
  "vconcat": [
   {
    "width": 359, "height": 67,
    "resolve": {"axis": {"x": "independent", "y": "independent"}},
    "layer": [
     {"layer": [
      {"data": {"name": "idpTot"}, "mark": {"type": "square", "size": 15, "opacity": 1},
       "encoding": {
        "x": {"field": "ta", "type": "quantitative", "scale": {"domain": [0, 360], "nice": false, "zero": false}, "axis": {"values": [0,100,200,300], "labels": false, "title": null, "minExtent": 0, "maxExtent": 0}},
        "y": {"field": "r", "type": "quantitative", "scale": {"domain": [1.85, 4.57], "nice": false, "zero": false}, "axis": {"title": "Distance to Sun [AU]", "titleFontSize": 7.5, "values": [2,2.5], "format": ".1f", "minExtent": 21, "maxExtent": 21, "titlePadding": 3}},
        "color": {"condition": {"test": "datum.inRange", "value": "#161616"}, "value": "#a3a3a3"}
       }},
      {"data": {"values": [{"ta": 12.5, "r": 4.05, "label": "b"}]}, "mark": {"type": "text", "fontSize": 15, "align": "left", "baseline": "middle", "color": "#111"},
       "encoding": {"x": {"field": "ta", "type": "quantitative"}, "y": {"field": "r", "type": "quantitative"}, "text": {"field": "label"}}}
     ]},
     {"data": {"name": "idpTot"}, "mark": {"type": "point", "opacity": 0},
      "encoding": {"y": {"field": "r", "type": "quantitative", "axis": {"orient": "left", "values": [3,3.5], "format": ".1f", "title": null, "minExtent": 21, "maxExtent": 21}}}},
     {"data": {"name": "idpTot"}, "mark": {"type": "point", "opacity": 0},
      "encoding": {"y": {"field": "r", "type": "quantitative", "axis": {"orient": "left", "values": [4,4.5], "format": ".1f", "title": null, "minExtent": 21, "maxExtent": 21}}}},
     {"data": {"name": "idpTot"}, "mark": {"type": "point", "opacity": 0},
      "encoding": {
       "x": {"field": "ta", "type": "quantitative", "axis": {"orient": "top", "values": [0,10,20,30,40,50,60,70,80,90,100,110,120,130,140,150,160,170,180,190,200,210,220,230,240,250,260,270,280,290,300,310,320,330,340,350,360], "tickSize": -2.5, "labels": false, "title": null, "maxExtent": 0}},
       "y": {"field": "r", "type": "quantitative", "axis": {"orient": "right", "values": [1.9,2,2.1,2.2,2.3,2.4,2.5,2.6,2.7,2.8,2.9,3,3.1,3.2,3.3,3.4,3.5,3.6,3.7,3.8,3.9,4,4.1,4.2,4.3,4.4,4.5], "tickSize": -2.5, "labels": false, "title": null, "maxExtent": 0}}
      }},
     {"data": {"name": "idpTot"}, "mark": {"type": "point", "opacity": 0},
      "encoding": {
       "x": {"field": "ta", "type": "quantitative", "axis": {"orient": "bottom", "values": [0,10,20,30,40,50,60,70,80,90,100,110,120,130,140,150,160,170,180,190,200,210,220,230,240,250,260,270,280,290,300,310,320,330,340,350,360], "tickSize": -2.5, "labels": false, "title": null, "maxExtent": 0}},
       "y": {"field": "r", "type": "quantitative", "axis": {"orient": "left", "values": [1.9,2,2.1,2.2,2.3,2.4,2.5,2.6,2.7,2.8,2.9,3,3.1,3.2,3.3,3.4,3.5,3.6,3.7,3.8,3.9,4,4.1,4.2,4.3,4.4,4.5], "tickSize": -2.5, "labels": false, "title": null, "maxExtent": 0}}
      }}
    ]
   },
   {
    "width": 359, "height": 135,
    "resolve": {"axis": {"x": "independent", "y": "independent"}},
    "layer": [
     {"layer": [
      {"data": {"name": "idp"}, "mark": {"type": "square", "size": 20, "opacity": 1},
       "encoding": {
        "x": {"field": "ta", "type": "quantitative", "scale": {"domain": [0, 360], "nice": false, "zero": false}, "axis": {"values": [0,100,200,300], "labels": false, "title": null, "minExtent": 0, "maxExtent": 0}},
        "y": {"field": "ef", "type": "quantitative", "scale": {"domain": [3, 10], "nice": false, "zero": false}, "axis": {"title": "Energy flux [ev/cm2/s]", "values": [3,4], "labelExpr": "'10' + replace(replace(replace(replace(replace(replace(replace(replace(replace(replace(replace(toString(datum.value),'-','⁻'),regexp('0','g'),'⁰'),regexp('1','g'),'¹'),regexp('2','g'),'²'),regexp('3','g'),'³'),regexp('4','g'),'⁴'),regexp('5','g'),'⁵'),regexp('6','g'),'⁶'),regexp('7','g'),'⁷'),regexp('8','g'),'⁸'),regexp('9','g'),'⁹')", "minExtent": 21, "maxExtent": 21, "titlePadding": 3}},
        "color": {"field": "m", "type": "quantitative",
         "scale": {"domain": [-12.3,-12,-11,-10,-9,-8,-7,-6,-5,-4,-3,-2,-1,0,0.3], "range": ["#000000","#000000","#8c3cc8","#2a1aa8","#1f4fe0","#1e90ff","#20d0e0","#20c8a0","#2ecc40","#a0e020","#f0e020","#ffa020","#ff5020","#e01010","#e01010"]},
         "legend": {"orient": "none", "legendX": 90, "legendY": 5, "direction": "horizontal", "gradientLength": 180, "gradientThickness": 5, "title": "Log Particle mass [g]", "titleFontSize": 11, "titleFontWeight": "normal", "titleAnchor": "middle", "titleColor": "#222", "titlePadding": 3, "labelFontSize": 7.5, "labelColor": "#222", "labelOverlap": false, "values": [-12,-11,-10,-9,-8,-7,-6,-5,-4,-3,-2,-1,0], "gradientStrokeWidth": 0, "labelOffset": 3}}
       }},
      {"data": {"name": "idp"}, "mark": {"type": "square", "size": 2.5, "color": "#1a1a1a", "opacity": 0.75},
       "encoding": {"x": {"field": "ta", "type": "quantitative"}, "y": {"field": "ef", "type": "quantitative"}}},
      {"data": {"name": "idpTot"}, "mark": {"type": "point", "shape": "M-1,0L1,0M0,-1L0,1", "size": 100, "filled": false, "color": "#222", "strokeWidth": 1, "opacity": 1},
       "encoding": {"x": {"field": "ta", "type": "quantitative"}, "y": {"field": "et", "type": "quantitative"}}}
     ]},
     {"data": {"name": "idpTot"}, "mark": {"type": "point", "opacity": 0},
      "encoding": {"y": {"field": "et", "type": "quantitative", "axis": {"orient": "left", "values": [5,6], "labelExpr": "'10' + replace(replace(replace(replace(replace(replace(replace(replace(replace(replace(replace(toString(datum.value),'-','⁻'),regexp('0','g'),'⁰'),regexp('1','g'),'¹'),regexp('2','g'),'²'),regexp('3','g'),'³'),regexp('4','g'),'⁴'),regexp('5','g'),'⁵'),regexp('6','g'),'⁶'),regexp('7','g'),'⁷'),regexp('8','g'),'⁸'),regexp('9','g'),'⁹')", "title": null, "minExtent": 21, "maxExtent": 21}}}},
     {"data": {"name": "idpTot"}, "mark": {"type": "point", "opacity": 0},
      "encoding": {"y": {"field": "et", "type": "quantitative", "axis": {"orient": "left", "values": [7,8], "labelExpr": "'10' + replace(replace(replace(replace(replace(replace(replace(replace(replace(replace(replace(toString(datum.value),'-','⁻'),regexp('0','g'),'⁰'),regexp('1','g'),'¹'),regexp('2','g'),'²'),regexp('3','g'),'³'),regexp('4','g'),'⁴'),regexp('5','g'),'⁵'),regexp('6','g'),'⁶'),regexp('7','g'),'⁷'),regexp('8','g'),'⁸'),regexp('9','g'),'⁹')", "title": null, "minExtent": 21, "maxExtent": 21}}}},
     {"data": {"name": "idpTot"}, "mark": {"type": "point", "opacity": 0},
      "encoding": {"y": {"field": "et", "type": "quantitative", "axis": {"orient": "left", "values": [9,10], "labelExpr": "'10' + replace(replace(replace(replace(replace(replace(replace(replace(replace(replace(replace(toString(datum.value),'-','⁻'),regexp('0','g'),'⁰'),regexp('1','g'),'¹'),regexp('2','g'),'²'),regexp('3','g'),'³'),regexp('4','g'),'⁴'),regexp('5','g'),'⁵'),regexp('6','g'),'⁶'),regexp('7','g'),'⁷'),regexp('8','g'),'⁸'),regexp('9','g'),'⁹')", "title": null, "minExtent": 21, "maxExtent": 21}}}},
     {"data": {"name": "idpTot"}, "mark": {"type": "point", "opacity": 0},
      "encoding": {
       "x": {"field": "ta", "type": "quantitative", "axis": {"orient": "top", "values": [0,10,20,30,40,50,60,70,80,90,100,110,120,130,140,150,160,170,180,190,200,210,220,230,240,250,260,270,280,290,300,310,320,330,340,350,360], "tickSize": -2.5, "labels": false, "title": null, "maxExtent": 0}},
       "y": {"field": "et", "type": "quantitative", "axis": {"orient": "right", "values": [3,3.301,3.477,3.602,3.699,3.778,3.845,3.903,3.954,4,4.301,4.477,4.602,4.699,4.778,4.845,4.903,4.954,5,5.301,5.477,5.602,5.699,5.778,5.845,5.903,5.954,6,6.301,6.477,6.602,6.699,6.778,6.845,6.903,6.954,7,7.301,7.477,7.602,7.699,7.778,7.845,7.903,7.954,8,8.301,8.477,8.602,8.699,8.778,8.845,8.903,8.954,9,9.301,9.477,9.602,9.699,9.778,9.845,9.903,9.954,10], "tickSize": -2.5, "labels": false, "title": null, "maxExtent": 0}}
      }},
     {"data": {"name": "idpTot"}, "mark": {"type": "point", "opacity": 0},
      "encoding": {
       "x": {"field": "ta", "type": "quantitative", "axis": {"orient": "bottom", "values": [0,10,20,30,40,50,60,70,80,90,100,110,120,130,140,150,160,170,180,190,200,210,220,230,240,250,260,270,280,290,300,310,320,330,340,350,360], "tickSize": -2.5, "labels": false, "title": null, "maxExtent": 0}},
       "y": {"field": "et", "type": "quantitative", "axis": {"orient": "left", "values": [3,3.301,3.477,3.602,3.699,3.778,3.845,3.903,3.954,4,4.301,4.477,4.602,4.699,4.778,4.845,4.903,4.954,5,5.301,5.477,5.602,5.699,5.778,5.845,5.903,5.954,6,6.301,6.477,6.602,6.699,6.778,6.845,6.903,6.954,7,7.301,7.477,7.602,7.699,7.778,7.845,7.903,7.954,8,8.301,8.477,8.602,8.699,8.778,8.845,8.903,8.954,9,9.301,9.477,9.602,9.699,9.778,9.845,9.903,9.954,10], "tickSize": -2.5, "labels": false, "title": null, "maxExtent": 0}}
      }}
    ]
   },
   {
    "width": 359, "height": 180,
    "resolve": {"axis": {"x": "independent", "y": "independent"}},
    "layer": [
     {"layer": [
      {"data": {"name": "idp"}, "mark": {"type": "square", "size": 20, "opacity": 1},
       "encoding": {
        "x": {"field": "ta", "type": "quantitative", "scale": {"domain": [0, 360], "nice": false, "zero": false}, "axis": {"values": [0,100,200,300], "format": "d", "title": "True anomaly [deg]", "labelPadding": 9, "minExtent": 12, "maxExtent": 12, "titlePadding": 3}},
        "y": {"field": "mf", "type": "quantitative", "scale": {"domain": [-21, -15], "nice": false, "zero": false}, "axis": {"title": "Mass flux [g/cm2/s]", "values": [-21,-20], "labelExpr": "'10' + replace(replace(replace(replace(replace(replace(replace(replace(replace(replace(replace(toString(datum.value),'-','⁻'),regexp('0','g'),'⁰'),regexp('1','g'),'¹'),regexp('2','g'),'²'),regexp('3','g'),'³'),regexp('4','g'),'⁴'),regexp('5','g'),'⁵'),regexp('6','g'),'⁶'),regexp('7','g'),'⁷'),regexp('8','g'),'⁸'),regexp('9','g'),'⁹')", "minExtent": 21, "maxExtent": 21, "titlePadding": 3}},
        "color": {"field": "m", "type": "quantitative",
         "scale": {"domain": [-12.3,-12,-11,-10,-9,-8,-7,-6,-5,-4,-3,-2,-1,0,0.3], "range": ["#000000","#000000","#8c3cc8","#2a1aa8","#1f4fe0","#1e90ff","#20d0e0","#20c8a0","#2ecc40","#a0e020","#f0e020","#ffa020","#ff5020","#e01010","#e01010"]},
         "legend": null}
       }},
      {"data": {"name": "idp"}, "mark": {"type": "square", "size": 2.5, "color": "#1a1a1a", "opacity": 0.75},
       "encoding": {"x": {"field": "ta", "type": "quantitative"}, "y": {"field": "mf", "type": "quantitative"}}},
      {"data": {"name": "idpTot"}, "mark": {"type": "point", "shape": "M-1,0L1,0M0,-1L0,1", "size": 100, "filled": false, "color": "#222", "strokeWidth": 1, "opacity": 1},
       "encoding": {"x": {"field": "ta", "type": "quantitative"}, "y": {"field": "mt", "type": "quantitative"}}}
     ]},
     {"data": {"name": "idpTot"}, "mark": {"type": "point", "opacity": 0},
      "encoding": {"y": {"field": "mt", "type": "quantitative", "axis": {"orient": "left", "values": [-19,-18], "labelExpr": "'10' + replace(replace(replace(replace(replace(replace(replace(replace(replace(replace(replace(toString(datum.value),'-','⁻'),regexp('0','g'),'⁰'),regexp('1','g'),'¹'),regexp('2','g'),'²'),regexp('3','g'),'³'),regexp('4','g'),'⁴'),regexp('5','g'),'⁵'),regexp('6','g'),'⁶'),regexp('7','g'),'⁷'),regexp('8','g'),'⁸'),regexp('9','g'),'⁹')", "title": null, "minExtent": 21, "maxExtent": 21}}}},
     {"data": {"name": "idpTot"}, "mark": {"type": "point", "opacity": 0},
      "encoding": {"y": {"field": "mt", "type": "quantitative", "axis": {"orient": "left", "values": [-17,-16], "labelExpr": "'10' + replace(replace(replace(replace(replace(replace(replace(replace(replace(replace(replace(toString(datum.value),'-','⁻'),regexp('0','g'),'⁰'),regexp('1','g'),'¹'),regexp('2','g'),'²'),regexp('3','g'),'³'),regexp('4','g'),'⁴'),regexp('5','g'),'⁵'),regexp('6','g'),'⁶'),regexp('7','g'),'⁷'),regexp('8','g'),'⁸'),regexp('9','g'),'⁹')", "title": null, "minExtent": 21, "maxExtent": 21}}}},
     {"data": {"name": "idpTot"}, "mark": {"type": "point", "opacity": 0},
      "encoding": {"y": {"field": "mt", "type": "quantitative", "axis": {"orient": "left", "values": [-15], "labelExpr": "'10' + replace(replace(replace(replace(replace(replace(replace(replace(replace(replace(replace(toString(datum.value),'-','⁻'),regexp('0','g'),'⁰'),regexp('1','g'),'¹'),regexp('2','g'),'²'),regexp('3','g'),'³'),regexp('4','g'),'⁴'),regexp('5','g'),'⁵'),regexp('6','g'),'⁶'),regexp('7','g'),'⁷'),regexp('8','g'),'⁸'),regexp('9','g'),'⁹')", "title": null, "minExtent": 21, "maxExtent": 21}}}},
     {"data": {"name": "idpTot"}, "mark": {"type": "point", "opacity": 0},
      "encoding": {
       "x": {"field": "ta", "type": "quantitative", "axis": {"orient": "top", "values": [0,10,20,30,40,50,60,70,80,90,100,110,120,130,140,150,160,170,180,190,200,210,220,230,240,250,260,270,280,290,300,310,320,330,340,350,360], "tickSize": -2.5, "labels": false, "title": null, "maxExtent": 0}},
       "y": {"field": "mt", "type": "quantitative", "axis": {"orient": "right", "values": [-21,-20.699,-20.523,-20.398,-20.301,-20.222,-20.155,-20.097,-20.046,-20,-19.699,-19.523,-19.398,-19.301,-19.222,-19.155,-19.097,-19.046,-19,-18.699,-18.523,-18.398,-18.301,-18.222,-18.155,-18.097,-18.046,-18,-17.699,-17.523,-17.398,-17.301,-17.222,-17.155,-17.097,-17.046,-17,-16.699,-16.523,-16.398,-16.301,-16.222,-16.155,-16.097,-16.046,-16,-15.699,-15.523,-15.398,-15.301,-15.222,-15.155,-15.097,-15.046,-15], "tickSize": -2.5, "labels": false, "title": null, "maxExtent": 0}}
      }},
     {"data": {"name": "idpTot"}, "mark": {"type": "point", "opacity": 0},
      "encoding": {
       "x": {"field": "ta", "type": "quantitative", "axis": {"orient": "bottom", "values": [0,10,20,30,40,50,60,70,80,90,100,110,120,130,140,150,160,170,180,190,200,210,220,230,240,250,260,270,280,290,300,310,320,330,340,350,360], "tickSize": -2.5, "labels": false, "title": null, "maxExtent": 0}},
       "y": {"field": "mt", "type": "quantitative", "axis": {"orient": "left", "values": [-21,-20.699,-20.523,-20.398,-20.301,-20.222,-20.155,-20.097,-20.046,-20,-19.699,-19.523,-19.398,-19.301,-19.222,-19.155,-19.097,-19.046,-19,-18.699,-18.523,-18.398,-18.301,-18.222,-18.155,-18.097,-18.046,-18,-17.699,-17.523,-17.398,-17.301,-17.222,-17.155,-17.097,-17.046,-17,-16.699,-16.523,-16.398,-16.301,-16.222,-16.155,-16.097,-16.046,-16,-15.699,-15.523,-15.398,-15.301,-15.222,-15.155,-15.097,-15.046,-15], "tickSize": -2.5, "labels": false, "title": null, "maxExtent": 0}}
      }}
    ]
   }
  ]
 }
]
}
